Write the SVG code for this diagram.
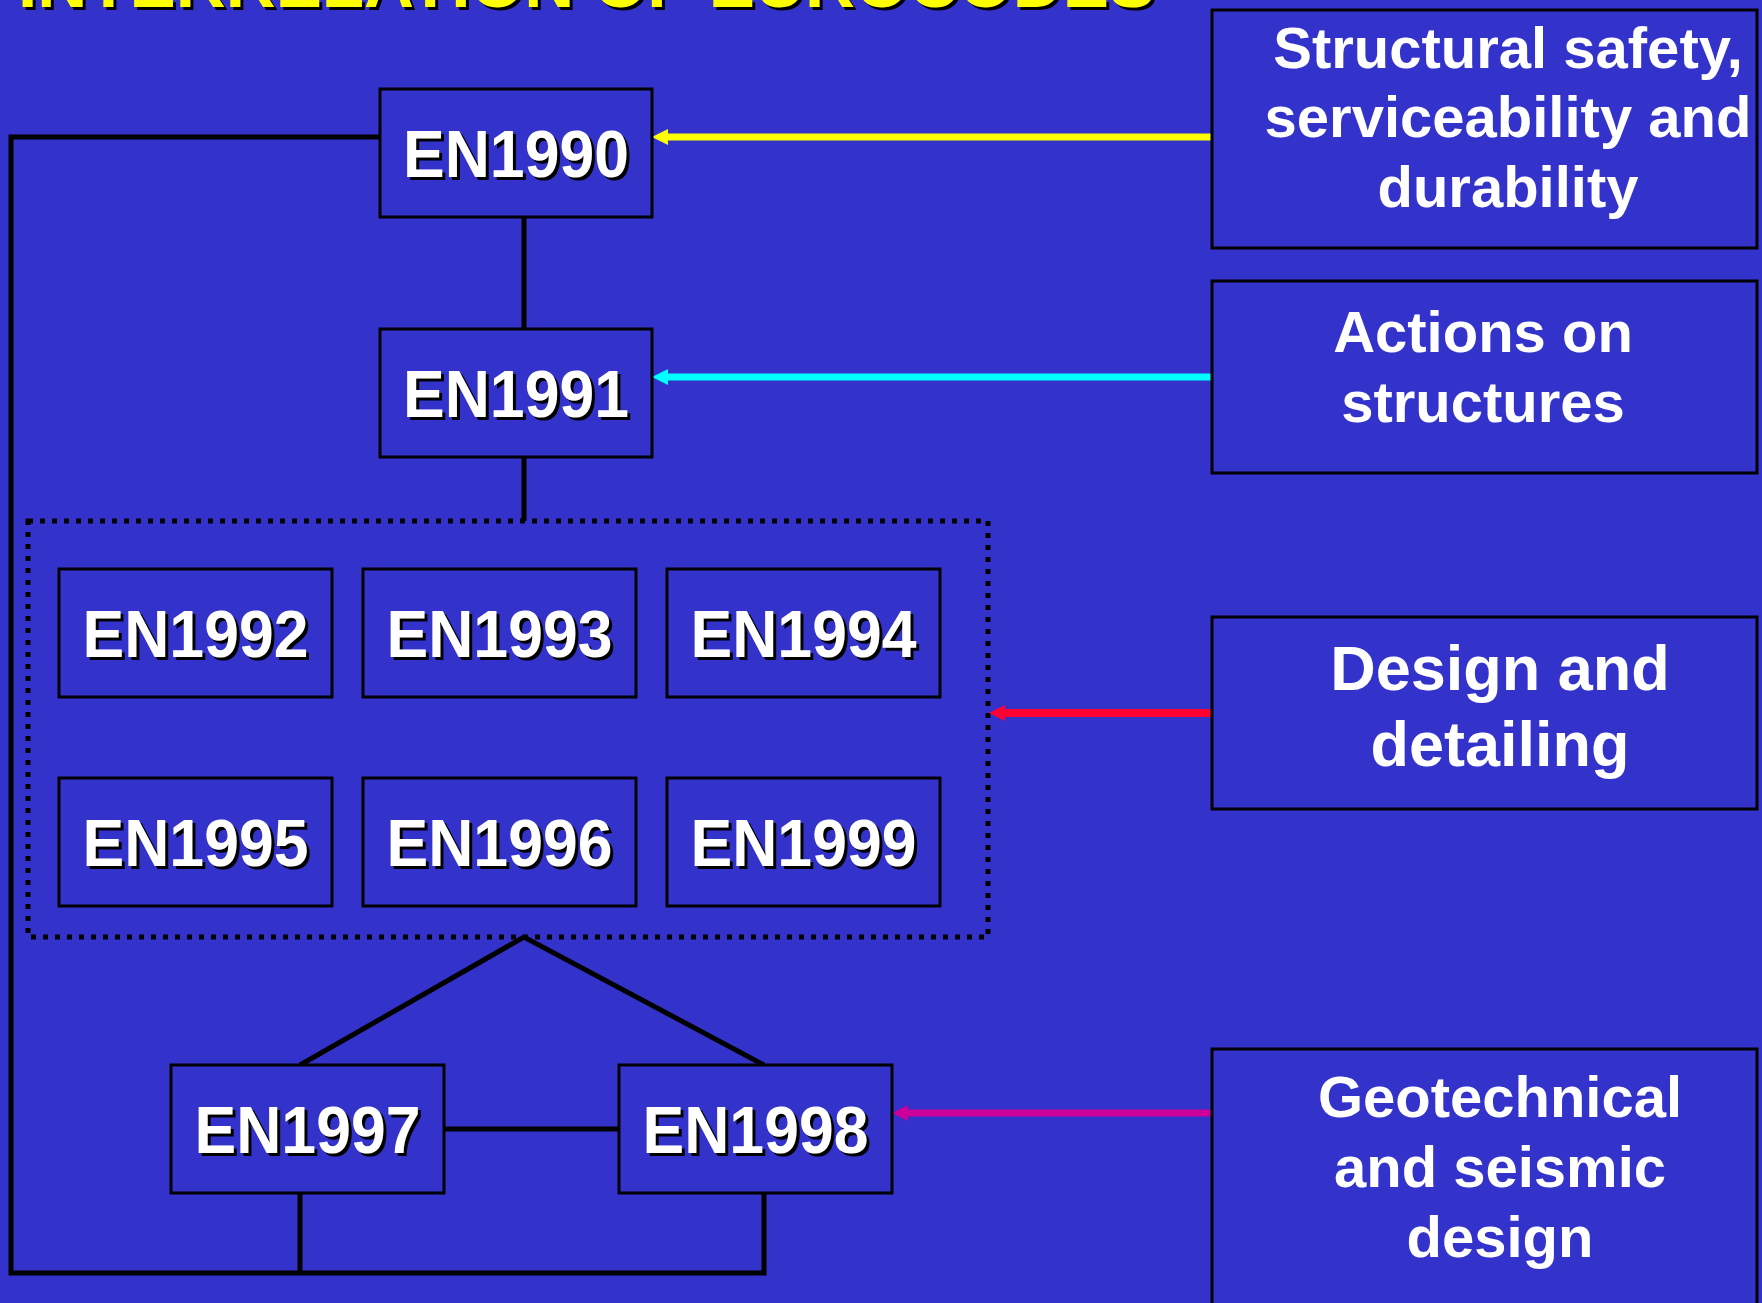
<svg xmlns="http://www.w3.org/2000/svg" width="1762" height="1303" viewBox="0 0 1762 1303">
<defs>
<style>
.bg{fill:#3333CC}
.box{fill:#3333CC;stroke:#000;stroke-width:3}
.en{font-family:"Liberation Sans",Arial,sans-serif;font-weight:bold;font-size:66px;text-anchor:middle}
.fg{fill:#fff}
.sh{fill:#000}
.lbl{font-family:"Liberation Sans",Arial,sans-serif;font-weight:bold;font-size:58px;fill:#fff;text-anchor:middle}
.ln{stroke:#000;stroke-width:5;fill:none}
.title{font-family:"Liberation Sans",Arial,sans-serif;font-weight:bold;font-size:69px}
</style>
<marker id="hY" markerUnits="userSpaceOnUse" markerWidth="17" markerHeight="17" refX="0" refY="8" orient="auto"><path d="M0,0 L16,8 L0,16 Z" fill="#FFFF00"/></marker>
<marker id="hC" markerUnits="userSpaceOnUse" markerWidth="17" markerHeight="17" refX="0" refY="8" orient="auto"><path d="M0,0 L16,8 L0,16 Z" fill="#00FFFF"/></marker>
<marker id="hR" markerUnits="userSpaceOnUse" markerWidth="17" markerHeight="17" refX="0" refY="8" orient="auto"><path d="M0,0 L16,8 L0,16 Z" fill="#FF0033"/></marker>
<marker id="hM" markerUnits="userSpaceOnUse" markerWidth="17" markerHeight="17" refX="0" refY="8" orient="auto"><path d="M0,0 L16,8 L0,16 Z" fill="#CC0099"/></marker>
</defs>
<rect class="bg" x="0" y="0" width="1762" height="1303"/>

<g id="title">
<text class="title sh" x="21" y="10" textLength="1137" lengthAdjust="spacingAndGlyphs">INTERRELATION OF EUROCODES</text>
<text class="title" fill="#FFFF00" x="18" y="7" textLength="1137" lengthAdjust="spacingAndGlyphs">INTERRELATION OF EUROCODES</text>
</g>

<g id="connectors">
<polyline class="ln" points="380,137 11,137 11,1273 764,1273 764,1193"/>
<line class="ln" x1="300" y1="1193" x2="300" y2="1273"/>
<line class="ln" x1="524" y1="217" x2="524" y2="329"/>
<line class="ln" x1="524" y1="457" x2="524" y2="521"/>
<polyline class="ln" points="300,1065 524,937 764,1065"/>
<line class="ln" x1="444" y1="1129" x2="619" y2="1129"/>
<rect x="28" y="521" width="960" height="416" fill="none" stroke="#000" stroke-width="5" stroke-dasharray="5 7"/>
<line x1="1212" y1="137" x2="668" y2="137" stroke="#FFFF00" stroke-width="7" marker-end="url(#hY)"/>
<line x1="1212" y1="377" x2="668" y2="377" stroke="#00FFFF" stroke-width="7" marker-end="url(#hC)"/>
<line x1="1212" y1="713" x2="1005" y2="713" stroke="#FF0033" stroke-width="8" marker-end="url(#hR)"/>
<line x1="1212" y1="1113" x2="908" y2="1113" stroke="#CC0099" stroke-width="7" marker-end="url(#hM)"/>
</g>

<g id="EN1990"><rect class="box" x="380" y="89" width="272" height="128"/>
<text class="en sh" x="519" y="180" textLength="226" lengthAdjust="spacingAndGlyphs">EN1990</text><text class="en fg" x="516" y="177" textLength="226" lengthAdjust="spacingAndGlyphs">EN1990</text></g>
<g id="EN1991"><rect class="box" x="380" y="329" width="272" height="128"/>
<text class="en sh" x="519" y="420" textLength="226" lengthAdjust="spacingAndGlyphs">EN1991</text><text class="en fg" x="516" y="417" textLength="226" lengthAdjust="spacingAndGlyphs">EN1991</text></g>
<g id="EN1992"><rect class="box" x="59" y="569" width="273" height="128"/>
<text class="en sh" x="198.5" y="660" textLength="226" lengthAdjust="spacingAndGlyphs">EN1992</text><text class="en fg" x="195.5" y="657" textLength="226" lengthAdjust="spacingAndGlyphs">EN1992</text></g>
<g id="EN1993"><rect class="box" x="363" y="569" width="273" height="128"/>
<text class="en sh" x="502.5" y="660" textLength="226" lengthAdjust="spacingAndGlyphs">EN1993</text><text class="en fg" x="499.5" y="657" textLength="226" lengthAdjust="spacingAndGlyphs">EN1993</text></g>
<g id="EN1994"><rect class="box" x="667" y="569" width="273" height="128"/>
<text class="en sh" x="806.5" y="660" textLength="226" lengthAdjust="spacingAndGlyphs">EN1994</text><text class="en fg" x="803.5" y="657" textLength="226" lengthAdjust="spacingAndGlyphs">EN1994</text></g>
<g id="EN1995"><rect class="box" x="59" y="778" width="273" height="128"/>
<text class="en sh" x="198.5" y="869" textLength="226" lengthAdjust="spacingAndGlyphs">EN1995</text><text class="en fg" x="195.5" y="866" textLength="226" lengthAdjust="spacingAndGlyphs">EN1995</text></g>
<g id="EN1996"><rect class="box" x="363" y="778" width="273" height="128"/>
<text class="en sh" x="502.5" y="869" textLength="226" lengthAdjust="spacingAndGlyphs">EN1996</text><text class="en fg" x="499.5" y="866" textLength="226" lengthAdjust="spacingAndGlyphs">EN1996</text></g>
<g id="EN1999"><rect class="box" x="667" y="778" width="273" height="128"/>
<text class="en sh" x="806.5" y="869" textLength="226" lengthAdjust="spacingAndGlyphs">EN1999</text><text class="en fg" x="803.5" y="866" textLength="226" lengthAdjust="spacingAndGlyphs">EN1999</text></g>
<g id="EN1997"><rect class="box" x="171" y="1065" width="273" height="128"/>
<text class="en sh" x="310.5" y="1156" textLength="226" lengthAdjust="spacingAndGlyphs">EN1997</text><text class="en fg" x="307.5" y="1153" textLength="226" lengthAdjust="spacingAndGlyphs">EN1997</text></g>
<g id="EN1998"><rect class="box" x="619" y="1065" width="273" height="128"/>
<text class="en sh" x="758.5" y="1156" textLength="226" lengthAdjust="spacingAndGlyphs">EN1998</text><text class="en fg" x="755.5" y="1153" textLength="226" lengthAdjust="spacingAndGlyphs">EN1998</text></g>

<g id="safety"><rect class="box" x="1212" y="10" width="545" height="238"/>
<text class="lbl" x="1508" y="68">Structural safety,</text>
<text class="lbl" x="1508" y="137">serviceability and</text>
<text class="lbl" x="1508" y="207">durability</text></g>
<g id="actions"><rect class="box" x="1212" y="281" width="545" height="192"/>
<text class="lbl" x="1483" y="352">Actions on</text>
<text class="lbl" x="1483" y="422">structures</text></g>
<g id="design"><rect class="box" x="1212" y="617" width="545" height="192"/>
<text class="lbl" x="1500" y="690" style="font-size:63px">Design and</text>
<text class="lbl" x="1500" y="766" style="font-size:63px">detailing</text></g>
<g id="geo"><rect class="box" x="1212" y="1049" width="545" height="270"/>
<text class="lbl" x="1500" y="1117">Geotechnical</text>
<text class="lbl" x="1500" y="1187">and seismic</text>
<text class="lbl" x="1500" y="1257">design</text></g>
</svg>
